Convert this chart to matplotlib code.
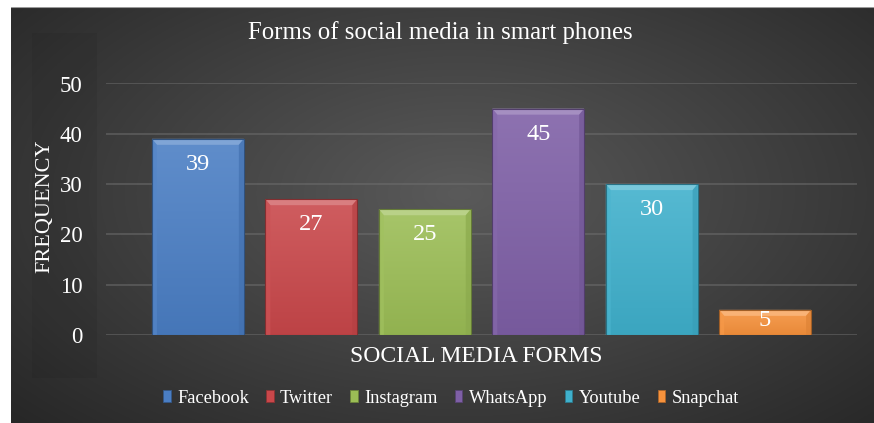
import numpy as np
import matplotlib
matplotlib.use('Agg')
import matplotlib.pyplot as plt
from matplotlib.patches import Patch, Polygon, Rectangle
from matplotlib.colors import to_rgb

# Chart data
categories = ['Facebook', 'Twitter', 'Instagram', 'WhatsApp', 'Youtube', 'Snapchat']
frequency = [39, 27, 25, 45, 30, 5]
bar_colors = ['#4a7ec4', '#c9474a', '#9bbd55', '#7e5fa6', '#3fb0cc', '#f7923c']
y_ticks = [0, 10, 20, 30, 40, 50]

plt.rcParams['font.family'] = ['Liberation Serif', 'DejaVu Serif']

W, H = 874, 423
fig = plt.figure(figsize=(W / 100, H / 100), dpi=100, facecolor='white')


def mix(c, other, t):
    c = np.array(to_rgb(c))
    o = np.array(to_rgb(other))
    return tuple(c * (1 - t) + o * t)


# Dark radial-gradient background (white margin on top and left)
bg = fig.add_axes([11 / W, 0, 1 - 11 / W, 1 - 7 / H])
bg.set_axis_off()
yy, xx = np.mgrid[0:1:300j, 0:1:600j]
r = np.sqrt(((xx - 0.52) / 0.75) ** 2 + ((yy - 0.55) / 0.85) ** 2)
r = np.clip(r, 0, 1)
inner = np.array(to_rgb('#5a5a5a'))
outer = np.array(to_rgb('#242424'))
img = inner[None, None, :] * (1 - r[..., None]) + outer[None, None, :] * r[..., None]
bg.imshow(img, extent=[0, 1, 0, 1], aspect='auto', origin='lower')
bg.set_xlim(0, 1)
bg.set_ylim(0, 1)
# faint darker band behind the value axis
bg.add_patch(Rectangle(((32 - 11) / (W - 11), 1 - (378 - 7) / (H - 7)),
                       65 / (W - 11), 345 / (H - 7),
                       facecolor='#000000', alpha=0.06, edgecolor='none'))
bg.axhline(1, color='#9a9a9a', lw=1.5)

# Main plot
ax = fig.add_axes([106 / W, 1 - 335 / H, (857 - 106) / W, (335 - 83.5) / H])
ax.set_facecolor('none')
x = np.arange(len(categories))
ax.set_xlim(-0.81, len(categories) - 1 + 0.81)
ax.set_ylim(0, 50)
ax.set_yticks(y_ticks)
ax.set_axisbelow(True)
ax.grid(axis='y', color='#707070', lw=1.3, alpha=0.55)
ax.tick_params(axis='y', length=0, labelsize=16.5, labelcolor='white', pad=17)
ax.tick_params(axis='x', length=0, labelbottom=False)
for s in ax.spines.values():
    s.set_visible(False)

bars = ax.bar(x, frequency, width=0.81, color=bar_colors, zorder=2,
              edgecolor='none')

px_x = (ax.get_xlim()[1] - ax.get_xlim()[0]) / (857 - 106)
px_y = 50 / (335 - 83.5)
grad = np.linspace(0, 1, 100)[:, None]
for rect, col in zip(bars, bar_colors):
    x0 = rect.get_x()
    x1 = x0 + rect.get_width()
    h = rect.get_height()
    top = mix(col, 'white', 0.12)
    bot = mix(col, 'black', 0.06)
    g = np.array(bot)[None, None, :] * (1 - grad[..., None]) + np.array(top)[None, None, :] * grad[..., None]
    im = ax.imshow(g, extent=[x0, x1, 0, h], aspect='auto', origin='lower', zorder=2.1)
    im.set_clip_path(rect)
    dx = 5 * px_x
    dy = 6 * px_y
    # bevel edges
    ax.add_patch(Polygon([(x0, h), (x1, h), (x1 - dx, h - dy), (x0 + dx, h - dy)],
                         facecolor=mix(col, 'white', 0.3), edgecolor='none', zorder=2.2))
    ax.add_patch(Polygon([(x0, 0), (x0, h), (x0 + dx, h - dy), (x0 + dx, 0)],
                         facecolor=mix(col, 'white', 0.06), alpha=0.7,
                         edgecolor='none', zorder=2.2))
    ax.add_patch(Polygon([(x1, 0), (x1, h), (x1 - dx, h - dy), (x1 - dx, 0)],
                         facecolor=mix(col, 'black', 0.1), alpha=0.7,
                         edgecolor='none', zorder=2.2))
    ax.add_patch(Rectangle((x0, 0), rect.get_width(), h, facecolor='none',
                           edgecolor=mix(col, 'black', 0.35), lw=0.8, zorder=2.3))

# Value labels inside the bar ends
for xi, v in zip(x, frequency):
    ty = v - 3 if v > 10 else v
    ax.text(xi, ty, str(v), ha='center', va='top', color='white',
            fontsize=17.5, zorder=3)

fig.text(440 / W, 1 - 33 / H, 'Forms of social media in smart phones',
         ha='center', va='center', color='white', fontsize=17.8)
fig.text(476 / W, 1 - 356 / H, 'SOCIAL MEDIA FORMS',
         ha='center', va='center', color='white', fontsize=17)
fig.text(45 / W, 1 - 206 / H, 'FREQUENCY', rotation=90,
         ha='center', va='center', color='white', fontsize=16)

handles = [Patch(facecolor=c, edgecolor=mix(c, 'black', 0.3), lw=0.6) for c in bar_colors]
fig.legend(handles, categories, loc='center', ncol=6,
           bbox_to_anchor=(451 / W, 1 - 398 / H), frameon=False,
           fontsize=13.2, labelcolor='white', handlelength=0.4,
           handleheight=0.55, handletextpad=0.35, columnspacing=0.95)

fig.savefig('out.png', dpi=100, facecolor='white')
